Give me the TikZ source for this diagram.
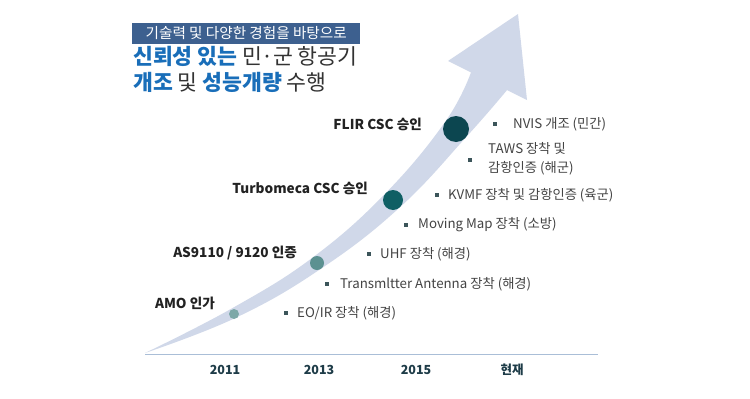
\documentclass[tikz,border=0pt]{standalone}
\usepackage{fontspec}
\setmainfont{Noto Sans CJK KR}
\definecolor{bandc}{RGB}{208,216,233}
\definecolor{axisc}{RGB}{170,190,215}
\definecolor{hdrc}{RGB}{61,96,143}
\definecolor{tblue}{RGB}{25,110,185}
\definecolor{tdark}{RGB}{51,51,51}
\definecolor{mlab}{RGB}{34,34,34}
\definecolor{itemc}{RGB}{68,68,68}
\definecolor{bulc}{RGB}{60,85,90}
\definecolor{yearc}{RGB}{30,60,72}
\definecolor{dA}{RGB}{125,168,168}
\definecolor{dB}{RGB}{92,145,145}
\definecolor{dC}{RGB}{15,95,100}
\definecolor{dD}{RGB}{12,70,80}
\tikzset{
  milestone/.style={anchor=east, inner sep=0pt, text=mlab, font=\fontsize{13.6}{16}\selectfont\bfseries},
  itemtext/.style={anchor=west, inner sep=0pt, text=itemc, font=\fontsize{13.3}{19}\selectfont, align=left},
  bul/.style={rectangle, fill=bulc, minimum size=3.5pt, inner sep=0pt},
  dot/.style={circle, inner sep=0pt},
  year/.style={inner sep=0pt, text=yearc, font=\fontsize{12.5}{14}\selectfont\bfseries},
  titletext/.style={anchor=base west, inner sep=0pt, font=\fontsize{21.6}{25}\selectfont},
}
\begin{document}
\begin{tikzpicture}[x=1pt,y=-1pt]
\useasboundingbox (0,0) rectangle (750,399);
\fill[white] (0,0) rectangle (750,399);
% axis
\coordinate (axL) at (145,354);
\coordinate (axR) at (598,354);
\draw[axisc, line width=1pt] (axL) -- (axR);
% band arrow
\fill[bandc] plot[smooth, tension=0.7] coordinates {(145,353) (231.7,308.5) (312.7,257.5) (385.9,192.9) (445.6,121.2) (471,72.4)}
  -- (448,61) -- (518,14) -- (527,100)
  -- plot[smooth, tension=0.7] coordinates {(507,90.1) (466.4,136.8) (400.1,207.1) (321.3,268.5) (236.3,317.5) (145,353)} -- cycle;
% dots
\node[dot, minimum size=10pt, fill=dA] (m1) at (234,314) {};
\node[dot, minimum size=14pt, fill=dB] (m2) at (317,263) {};
\node[dot, minimum size=20pt, fill=dC] (m3) at (393,200) {};
\node[dot, minimum size=26pt, fill=dD] (m4) at (456,129) {};
% header
\node[fill=hdrc, text=white, minimum width=228pt, minimum height=21.5pt, inner sep=0pt, anchor=west,
  font=\fontsize{14.6}{16}\selectfont] (hdr) at (132,33.3) {기술력 및 다양한 경험을 바탕으로};
\node[titletext] (tl1) at (133,64.8) {\textcolor{tblue}{\bfseries 신뢰성 있는} \textcolor{tdark}{민\makebox[0.5em][c]{·}군 항공기}};
\node[titletext] (tl2) at (133,90.8) {\textcolor{tblue}{\bfseries 개조} \textcolor{tdark}{및} \textcolor{tblue}{\bfseries 성능개량} \textcolor{tdark}{수행}};
% milestones
\node[milestone] (l4) at (422,124) {FLIR CSC 승인};
\node[milestone] (l3) at (368,188) {Turbomeca CSC 승인};
\node[milestone] (l2) at (297,253) {AS9110 / 9120 인증};
\node[milestone] (l1) at (215,303.5) {AMO 인가};
% items
\node[bul] (b1) at (495,124) {};
\node[itemtext] (i1) at (513,124) {NVIS 개조 (민간)};
\node[bul] (b2) at (470,160) {};
\node[itemtext] (i2) at (488,158.5) {TAWS 장착 및\\감항인증 (해군)};
\node[bul] (b3) at (437,195) {};
\node[itemtext] (i3) at (448,195) {KVMF 장착 및 감항인증 (육군)};
\node[bul] (b4) at (406,225) {};
\node[itemtext] (i4) at (418,225) {Moving Map 장착 (소방)};
\node[bul] (b5) at (369,254) {};
\node[itemtext] (i5) at (380,254) {UHF 장착 (해경)};
\node[bul] (b6) at (327,284) {};
\node[itemtext] (i6) at (340,284) {Transmltter Antenna 장착 (해경)};
\node[bul] (b7) at (286,313) {};
\node[itemtext] (i7) at (297,313) {EO/IR 장착 (해경)};
% years
\node[year] (y1) at (225,370) {2011};
\node[year] (y2) at (319,370) {2013};
\node[year] (y3) at (416,370) {2015};
\node[year] (y4) at (512,370) {현재};
\end{tikzpicture}
\end{document}
